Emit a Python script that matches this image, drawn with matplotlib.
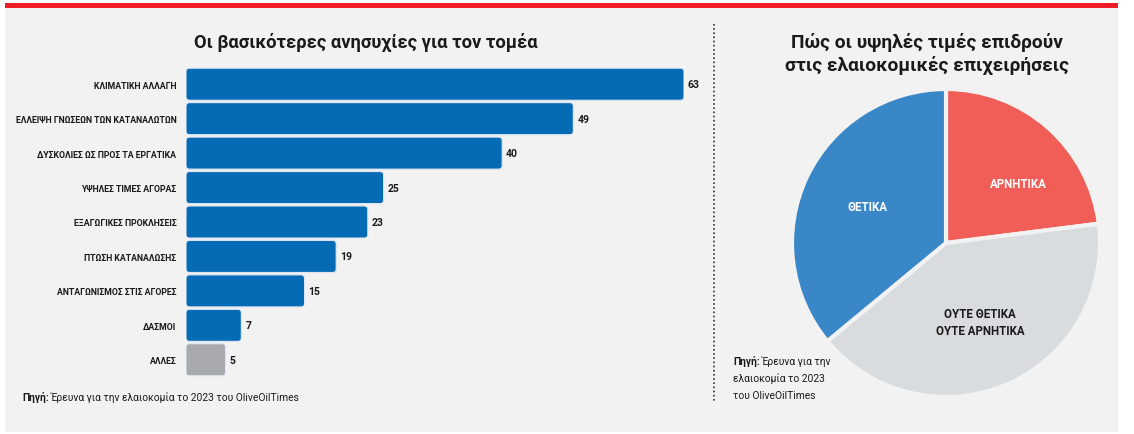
import numpy as np
import matplotlib.pyplot as plt
from matplotlib.patches import Rectangle, FancyBboxPatch
from matplotlib.lines import Line2D

# bar chart data
categories = ['ΚΛΙΜΑΤΙΚΗ ΑΛΛΑΓΗ', 'ΕΛΛΕΙΨΗ ΓΝΩΣΕΩΝ ΤΩΝ ΚΑΤΑΝΑΛΩΤΩΝ',
              'ΔΥΣΚΟΛΙΕΣ ΩΣ ΠΡΟΣ ΤΑ ΕΡΓΑΤΙΚΑ', 'ΥΨΗΛΕΣ ΤΙΜΕΣ ΑΓΟΡΑΣ',
              'ΕΞΑΓΩΓΙΚΕΣ ΠΡΟΚΛΗΣΕΙΣ', 'ΠΤΩΣΗ ΚΑΤΑΝΑΛΩΣΗΣ',
              'ΑΝΤΑΓΩΝΙΣΜΟΣ ΣΤΙΣ ΑΓΟΡΕΣ', 'ΔΑΣΜΟΙ', 'ΑΛΛΕΣ']
values = [63, 49, 40, 25, 23, 19, 15, 7, 5]

# pie data
pie_labels = ['ΑΡΝΗΤΙΚΑ', 'ΟΥΤΕ ΘΕΤΙΚΑ\nΟΥΤΕ ΑΡΝΗΤΙΚΑ', 'ΘΕΤΙΚΑ']
pie_values = [23, 41, 36]

BLUE = '#066bb5'
GREY_BAR = '#a8a9ad'
BG = '#f2f2f2'
pie_colors = ['#f05e57', '#d9dcdf', '#3a87c8']
pie_text_colors = ['white', '#1a1a1a', 'white']

plt.rcParams['font.family'] = ['Roboto', 'DejaVu Sans']

W, H = 1134, 435
fig = plt.figure(figsize=(W / 100, H / 100), dpi=100, facecolor='white')

def fx(px):
    return px / W

def fy(py):
    return 1 - py / H

# panel background and red top rule
fig.patches.append(Rectangle((fx(5), fy(433)), fx(1118) - fx(5), fy(9) - fy(433),
                             transform=fig.transFigure, facecolor=BG, edgecolor='none', zorder=-2))
fig.patches.append(Rectangle((fx(5), fy(9)), fx(1118) - fx(5), fy(4) - fy(9),
                             transform=fig.transFigure, facecolor='#ee1c25', edgecolor='none', zorder=-1))
# dotted separator
fig.add_artist(Line2D([fx(714), fx(714)], [fy(25), fy(403)], transform=fig.transFigure,
                      color='#333333', linestyle=(0, (1, 1.5)), linewidth=1.2))

# ---- bar chart ----
ax_left, ax_right, ax_top, ax_bot = 186, 684, 68, 378
ax = fig.add_axes([fx(ax_left), fy(ax_bot), fx(ax_right) - fx(ax_left), fy(ax_top) - fy(ax_bot)], zorder=3)
ax.set_facecolor('none')
ypos = list(range(len(categories)))
colors = [BLUE] * (len(values) - 1) + [GREY_BAR]
bars = ax.barh(ypos, values, height=0.93, color=colors)
ax.set_xlim(0, 63)
ax.set_ylim(len(categories) - 0.5, -0.5)

# swap plain bars for slightly rounded ones
px_per_x = (ax_right - ax_left) / 63
px_per_y = (ax_bot - ax_top) / len(categories)
for b in bars:
    b.set_visible(False)
    rb = FancyBboxPatch((b.get_x(), b.get_y()), b.get_width(), b.get_height(),
                        boxstyle='round,pad=0,rounding_size=0.45',
                        mutation_aspect=px_per_x / px_per_y,
                        facecolor=b.get_facecolor(), edgecolor='#dde6f0', linewidth=0.8)
    ax.add_patch(rb)

ax.set_yticks(ypos)
ax.set_yticklabels(categories, fontsize=6.3, fontweight='bold', color='#1a1a1a')
ax.tick_params(axis='y', length=0, pad=7)
ax.set_xticks([])
for s in ax.spines.values():
    s.set_visible(False)
for y, v in zip(ypos, values):
    ax.text(v + 0.5, y, str(v), va='center', ha='left', fontsize=7.5, fontweight='bold', color='#1a1a1a')

fig.text(fx(366), fy(42), 'Οι βασικότερες ανησυχίες για τον τομέα', ha='center', va='center',
         fontsize=13.2, fontweight='bold', color='#1a1a1a')

src1 = fig.text(fx(22), fy(398), 'Πηγή:', ha='left', va='center', fontsize=7.4, fontweight='bold', color='#1a1a1a')
fig.canvas.draw()
bb = src1.get_window_extent()
fig.text(bb.x1 / W + fx(2), fy(398), 'Έρευνα για την ελαιοκομία το 2023 του OliveOilTimes',
         ha='left', va='center', fontsize=7.4, color='#1a1a1a')

# ---- pie chart ----
pax = fig.add_axes([fx(792), fy(398), fx(1100) - fx(792), fy(90) - fy(398)], zorder=3)
wedges, texts = pax.pie(pie_values, colors=pie_colors, startangle=90, counterclock=False,
                        labels=pie_labels, labeldistance=0.56,
                        wedgeprops=dict(edgecolor=BG, linewidth=3),
                        textprops=dict(fontsize=8.3, fontweight='bold', ha='center', va='center',
                                       linespacing=1.35))
for t, c in zip(texts, pie_text_colors):
    t.set_color(c)
# the red slice label sits a little lower and further out in the original
w0 = wedges[0]
ang = np.deg2rad((w0.theta1 + w0.theta2) / 2 - 9)
texts[0].set_position((0.61 * np.cos(ang), 0.61 * np.sin(ang)))
pax.set_xlim(-1, 1)
pax.set_ylim(-1, 1)
pax.set_aspect('equal')

fig.text(fx(927), fy(54), 'Πώς οι υψηλές τιμές επιδρούν\nστις ελαιοκομικές επιχειρήσεις',
         ha='center', va='center', fontsize=13.8, fontweight='bold', color='#1a1a1a', linespacing=1.25)

src2 = fig.text(fx(733), fy(362), 'Πηγή:', ha='left', va='center', fontsize=7.4, fontweight='bold', color='#1a1a1a')
fig.canvas.draw()
bb2 = src2.get_window_extent()
fig.text(bb2.x1 / W + fx(2), fy(362), 'Έρευνα για την', ha='left', va='center', fontsize=7.4, color='#1a1a1a')
fig.text(fx(733), fy(379), 'ελαιοκομία το 2023', ha='left', va='center', fontsize=7.4, color='#1a1a1a')
fig.text(fx(733), fy(396), 'του OliveOilTimes', ha='left', va='center', fontsize=7.4, color='#1a1a1a')

fig.savefig('out.png', dpi=100, facecolor='white')
